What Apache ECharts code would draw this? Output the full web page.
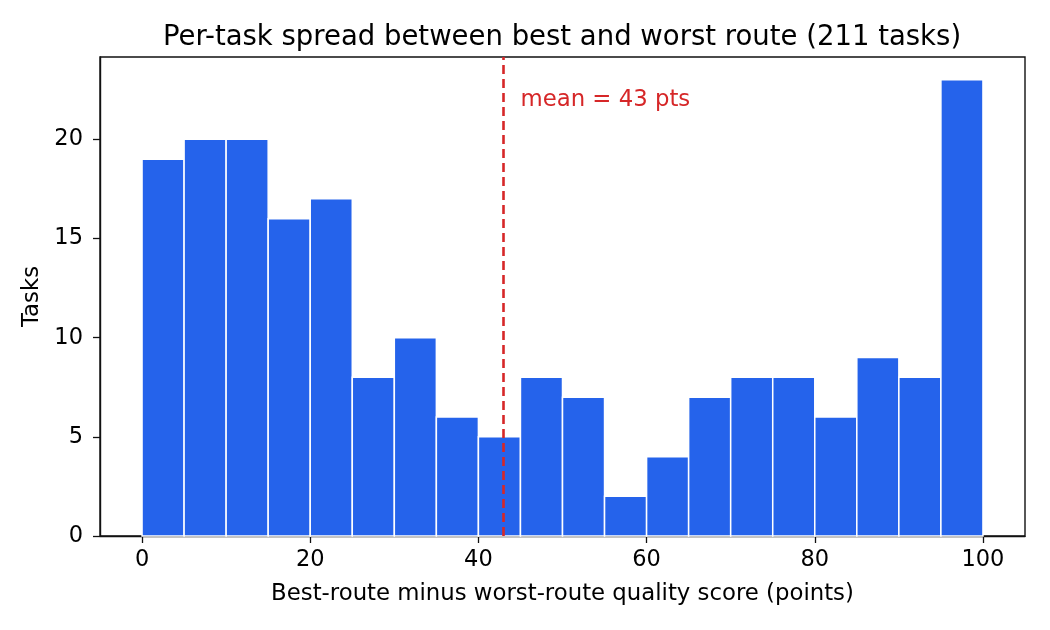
<!DOCTYPE html>
<html>
<head>
<meta charset="utf-8">
<script src="https://cdn.jsdelivr.net/npm/echarts@6/dist/echarts.min.js"></script>
<style>
  html, body { margin: 0; padding: 0; background: #fff; }
  #main { width: 1050px; height: 630px; }
</style>
</head>
<body>
<div id="main"></div>
<script>
// histogram bins (points) and task counts per bin
var binEdges = [0, 5, 10, 15, 20, 25, 30, 35, 40, 45, 50, 55, 60, 65, 70, 75, 80, 85, 90, 95, 100];
var counts = [19, 20, 20, 16, 17, 8, 10, 6, 5, 8, 7, 2, 4, 7, 8, 8, 6, 9, 8, 23];
var meanValue = 43;
var xTicks = [0, 20, 40, 60, 80, 100];
var yTicks = [0, 5, 10, 15, 20];
var totalTasks = 211;

var font = "DejaVu Sans";
var barData = counts.map(function (c, i) {
  return [binEdges[i], binEdges[i + 1], c];
});

var chart = echarts.init(document.getElementById("main"));

var option = {
  animation: false,
  backgroundColor: "#fff",
  title: {
    text: "Per-task spread between best and worst route (" + totalTasks + " tasks)",
    left: 562,
    textAlign: "center",
    top: 24,
    padding: 0,
    textStyle: { fontFamily: font, fontSize: 27.5, fontWeight: "normal", color: "#000" },
  },
  grid: {
    left: 100,
    right: 25,
    top: 57,
    bottom: 94,
    show: true,
    borderColor: "#111",
    borderWidth: 1.4,
    backgroundColor: "transparent",
  },
  xAxis: {
    type: "value",
    min: -5,
    max: 105,
    name: "Best-route minus worst-route quality score (points)",
    nameLocation: "middle",
    nameGap: 47,
    nameTextStyle: { fontFamily: font, fontSize: 22.8, color: "#000" },
    splitLine: { show: false },
    axisLine: { show: true, onZero: false, lineStyle: { color: "#111", width: 1.4 } },
    axisTick: { show: true, length: 7, customValues: xTicks, lineStyle: { color: "#111", width: 1.3 } },
    axisLabel: { customValues: xTicks, margin: 13, fontFamily: font, fontSize: 22.5, color: "#000" },
  },
  yAxis: {
    type: "value",
    min: 0,
    max: 24.15,
    name: "Tasks",
    nameLocation: "middle",
    nameGap: 56,
    nameTextStyle: { fontFamily: font, fontSize: 22.8, color: "#000" },
    splitLine: { show: false },
    axisLine: { show: true, onZero: false, lineStyle: { color: "#111", width: 1.4 } },
    axisTick: { show: true, length: 7, customValues: yTicks, lineStyle: { color: "#111", width: 1.3 } },
    axisLabel: { customValues: yTicks, margin: 17, fontFamily: font, fontSize: 22.5, color: "#000" },
  },
  series: [
    {
      type: "custom",
      data: barData,
      encode: { x: [0, 1], y: 2 },
      renderItem: function (params, api) {
        var p0 = api.coord([api.value(0), api.value(2)]);
        var p1 = api.coord([api.value(1), 0]);
        return {
          type: "rect",
          shape: { x: p0[0], y: p0[1], width: p1[0] - p0[0], height: p1[1] - p0[1] },
          style: { fill: "#2563eb", stroke: "#fff", lineWidth: 1.5 },
        };
      },
      markLine: {
        silent: true,
        symbol: "none",
        label: { show: false },
        lineStyle: { color: "#d62728", type: [9, 5], width: 2.6, opacity: 1 },
        data: [{ xAxis: meanValue }],
      },
    },
    {
      type: "scatter",
      symbolSize: 0,
      itemStyle: { opacity: 1 },
      data: [[meanValue + 2, 22]],
      label: {
        show: true,
        position: "inside",
        align: "left",
        verticalAlign: "middle",
        formatter: "mean = " + meanValue + " pts",
        fontFamily: font,
        fontSize: 22.8,
        color: "#d62728",
        opacity: 1,
      },
    },
  ],
};

chart.setOption(option);
</script>
</body>
</html>
